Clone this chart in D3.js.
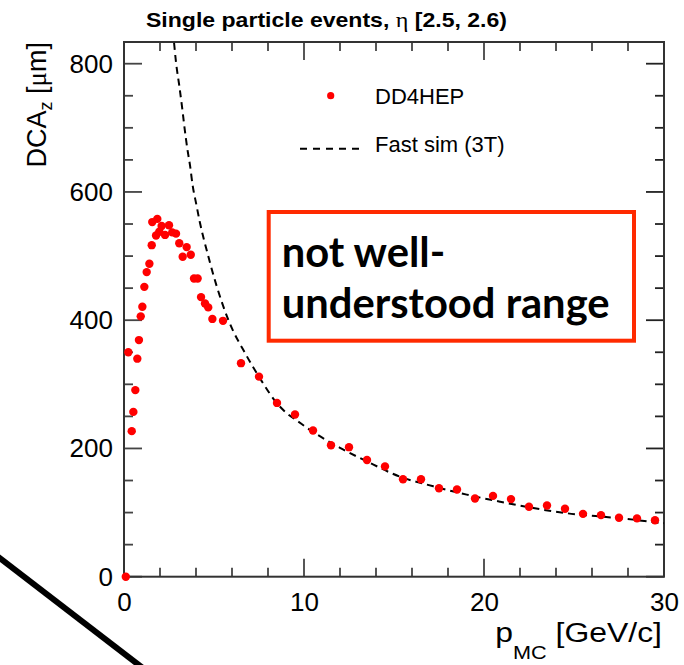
<!DOCTYPE html>
<html>
<head>
<meta charset="utf-8">
<script src="https://cdn.jsdelivr.net/npm/d3@7"></script>
<style>
  html, body { margin: 0; padding: 0; background: #fff; }
  svg { display: block; }
</style>
</head>
<body>
<svg id="chart" width="684" height="665"></svg>
<script>
// DD4HEP single-particle DCA_z resolution vs. generated momentum
const dd4hepP = [0.1, 0.24, 0.43, 0.52, 0.63, 0.74, 0.83, 0.93, 1.02, 1.13, 1.26, 1.41, 1.54, 1.57,
  1.78, 1.85, 1.96, 2.09, 2.28, 2.5, 2.68, 2.89, 3.07, 3.26, 3.48, 3.71, 3.89, 4.09, 4.28, 4.5,
  4.68, 4.91, 5.5, 6.5, 7.5, 8.5, 9.5, 10.5, 11.5, 12.5, 13.5, 14.5, 15.5, 16.5, 17.5, 18.5,
  19.5, 20.5, 21.5, 22.5, 23.5, 24.5, 25.5, 26.5, 27.5, 28.5, 29.5];
const dd4hepDCA = [0, 350, 227, 257, 291, 340, 369, 406, 421, 452, 475, 488, 517, 553,
  532, 558, 538, 547, 533, 548, 537, 535, 520, 499, 514, 502, 465, 465, 436, 426,
  420, 402, 399, 333, 312, 271, 253, 228, 205, 202, 182, 172, 152, 152, 138, 136,
  122, 126, 121, 109, 111, 106, 98, 96, 92, 91, 88];

// Fast simulation (3T field) parametrised curve, sampled
const fastP = [2.72, 2.78, 2.89, 3.07, 3.24, 3.35, 3.52, 3.67, 3.82, 4.0, 4.22, 4.68, 5.15, 5.79,
  6.82, 7.65, 8.48, 9.04, 9.68, 10.33, 12.0, 13.48, 15.33, 17.18, 19.04, 20.89, 22.74,
  24.59, 26.44, 28.29, 29.78, 30.0];
const fastDCA = [851, 833, 802, 766, 729, 703, 667, 641, 609, 583, 552, 500, 453, 401,
  344, 305, 271, 255, 242, 229, 201, 180, 156, 141, 128, 117, 107,
  99, 94, 89, 84, 83.5];

const xTicks = [0, 10, 20, 30];
const yTicks = [0, 200, 400, 600, 800];
const titleText = "Single particle events, ";
const legendLabels = ["DD4HEP", "Fast sim (3T)"];
const boxLines = ["not well-", "understood range"];

const svg = d3.select("#chart");
const frameL = 124, frameR = 664, frameT = 42, frameB = 576.7;

const x = d3.scaleLinear().domain([0, 30]).range([frameL, frameR]);
const yMax = (frameB - frameT) / (513 / 800);
const y = d3.scaleLinear().domain([0, yMax]).range([frameB, frameT]);

const sans = "'Liberation Sans', Arial, Helvetica, sans-serif";
const serif = "'Liberation Serif', 'DejaVu Serif', serif";

svg.append("defs").append("clipPath").attr("id", "plotClip")
  .append("rect").attr("x", frameL).attr("y", frameT)
  .attr("width", frameR - frameL).attr("height", frameB - frameT);

// decorative slanted stroke at lower left
svg.append("line")
  .attr("x1", -10).attr("y1", 550.6).attr("x2", 148).attr("y2", 672)
  .attr("stroke", "#000").attr("stroke-width", 6);

// frame ticks on all four sides (ROOT style, pointing inward)
const frameG = svg.append("g");
const tickColor = "#444";
const xMinor = d3.range(0, 30.01, 2);
const yMinor = d3.range(0, yMax, 50);
xMinor.forEach(v => {
  const len = xTicks.includes(v) ? 18 : 9;
  frameG.append("line").attr("x1", x(v)).attr("x2", x(v)).attr("y1", frameB).attr("y2", frameB - len)
    .attr("stroke", tickColor).attr("stroke-width", 1.8);
  frameG.append("line").attr("x1", x(v)).attr("x2", x(v)).attr("y1", frameT).attr("y2", frameT + len)
    .attr("stroke", tickColor).attr("stroke-width", 1.8);
});
yMinor.forEach(v => {
  const len = yTicks.includes(v) ? 18 : 9;
  frameG.append("line").attr("x1", frameL).attr("x2", frameL + len).attr("y1", y(v)).attr("y2", y(v))
    .attr("stroke", tickColor).attr("stroke-width", 1.8);
  frameG.append("line").attr("x1", frameR).attr("x2", frameR - len).attr("y1", y(v)).attr("y2", y(v))
    .attr("stroke", "#222").attr("stroke-width", 1.8);
});
frameG.append("rect").attr("x", frameL).attr("y", frameT)
  .attr("width", frameR - frameL).attr("height", frameB - frameT)
  .attr("fill", "none").attr("stroke", "#333").attr("stroke-width", 2);

// axis tick labels via d3 axes (lines hidden, labels styled)
const xAxis = svg.append("g").attr("transform", `translate(0,${frameB})`)
  .call(d3.axisBottom(x).tickValues(xTicks).tickSize(0).tickPadding(16).tickFormat(d3.format("d")));
const yAxis = svg.append("g").attr("transform", `translate(${frameL},0)`)
  .call(d3.axisLeft(y).tickValues(yTicks).tickSize(0).tickPadding(11).tickFormat(d3.format("d")));
[xAxis, yAxis].forEach(g => {
  g.select(".domain").remove();
  g.selectAll("text").attr("font-family", sans).attr("font-size", 26).attr("fill", "#000");
});

// fast-sim dashed curve
const line = d3.line().x(d => x(d[0])).y(d => y(d[1])).curve(d3.curveMonotoneX);
svg.append("path")
  .datum(fastP.map((p, i) => [p, fastDCA[i]]))
  .attr("clip-path", "url(#plotClip)")
  .attr("d", line).attr("fill", "none")
  .attr("stroke", "#000").attr("stroke-width", 2).attr("stroke-dasharray", "7,5");

// DD4HEP points
svg.append("g").selectAll("circle")
  .data(dd4hepP.map((p, i) => [p, dd4hepDCA[i]]))
  .join("circle")
  .attr("cx", d => x(d[0])).attr("cy", d => y(d[1])).attr("r", 4.2)
  .attr("fill", "#ff0000");

// legend
const lg = svg.append("g");
lg.append("circle").attr("cx", 330.7).attr("cy", 95.7).attr("r", 3.6).attr("fill", "#ff0000");
lg.append("line").attr("x1", 300).attr("x2", 361).attr("y1", 148.7).attr("y2", 148.7)
  .attr("stroke", "#000").attr("stroke-width", 2).attr("stroke-dasharray", "7,6");
lg.selectAll("text").data(legendLabels).join("text")
  .attr("x", 375).attr("y", (d, i) => i === 0 ? 104 : 152)
  .attr("font-family", sans).attr("font-size", 22).attr("fill", "#000")
  .text(d => d);

// title
const title = svg.append("text").attr("x", 146).attr("y", 27)
  .attr("font-family", sans).attr("font-weight", "bold").attr("font-size", 21).attr("fill", "#000")
  .attr("textLength", 361).attr("lengthAdjust", "spacingAndGlyphs");
title.append("tspan").text(titleText);
title.append("tspan").attr("font-family", serif).attr("font-weight", "normal").attr("font-size", 22).text("η");
title.append("tspan").text(" [2.5, 2.6)");

// y axis title
const yt = svg.append("text")
  .attr("transform", "translate(46,42) rotate(-90)")
  .attr("text-anchor", "end")
  .attr("font-family", sans).attr("font-size", 27).attr("fill", "#000");
yt.append("tspan").text("DCA");
yt.append("tspan").attr("font-size", 18).attr("dy", 6).text("z");
yt.append("tspan").attr("dy", -6).text(" [");
yt.append("tspan").attr("font-family", serif).text("μ");
yt.append("tspan").text("m]");

// x axis title (slightly widened glyphs)
const xt = svg.append("text")
  .attr("transform", "translate(662,642) scale(1.14,1)")
  .attr("text-anchor", "end")
  .attr("font-family", sans).attr("font-size", 28).attr("fill", "#000");
xt.append("tspan").text("p");
xt.append("tspan").attr("font-size", 19).attr("dy", 17).text("MC");
xt.append("tspan").attr("dy", -17).text(" [GeV/c]");

// annotation box
svg.append("rect").attr("x", 268.7).attr("y", 212).attr("width", 634 - 268.7).attr("height", 340.7 - 212)
  .attr("fill", "#fff").attr("stroke", "#ff2a00").attr("stroke-width", 4);
const boxFont = "Lato, 'Open Sans', sans-serif";
const bt = svg.append("g").selectAll("text").data(boxLines).join("text")
  .attr("x", 281.7).attr("y", (d, i) => i === 0 ? 266.7 : 318)
  .attr("font-family", boxFont).attr("font-weight", "bold").attr("font-size", 36).attr("fill", "#000")
  .text(d => d);
// scale the box text so the longer line spans its measured width
const w2 = bt.filter((d, i) => i === 1).node().getComputedTextLength();
bt.attr("font-size", 36 * 328 / w2);
</script>
</body>
</html>
